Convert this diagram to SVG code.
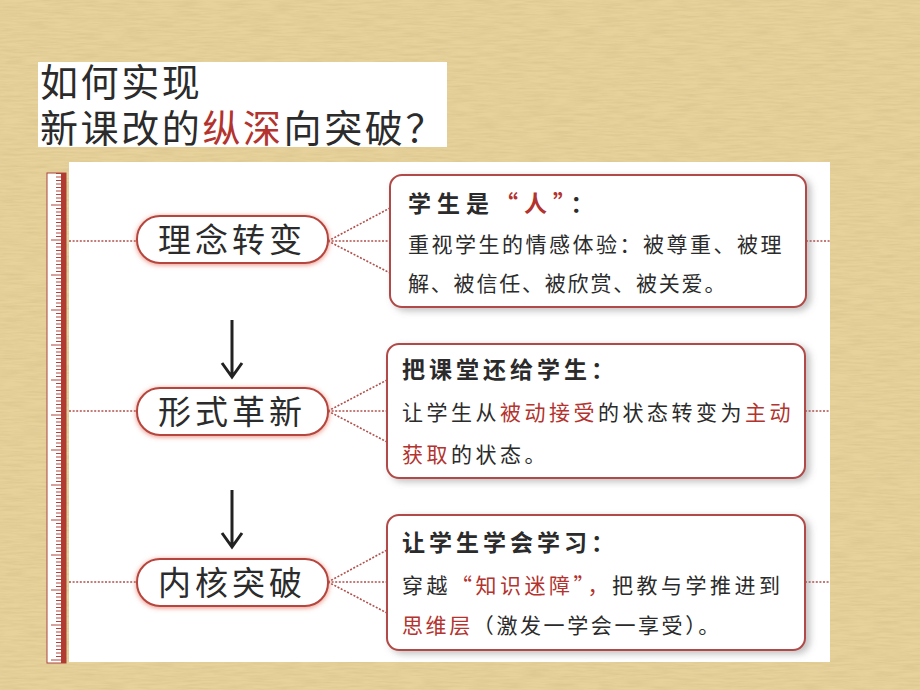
<svg xmlns="http://www.w3.org/2000/svg" width="920" height="690" viewBox="0 0 920 690">
<defs>
<style>
.cn{font-family:"Noto Sans CJK SC","Noto Sans CJK TC",sans-serif;fill:#2b2b2b}
.red{fill:#b3332e}
.ttl{font-size:38px;letter-spacing:2.6px}
.pilltxt{font-size:33px;letter-spacing:4px}
.bt{font-size:23px;font-weight:bold}
.bx{font-size:21px;letter-spacing:2.5px}
.pill{fill:#fff;stroke:#b5453d;stroke-width:2}
.box{fill:#fff;stroke:#b04a46;stroke-width:2}
.dot{stroke:#b0504c;stroke-width:1.6;stroke-dasharray:2 1.6;fill:none}
.arr{stroke:#222;stroke-width:3;fill:none}
</style>
<filter id="tex" x="0" y="0" width="100%" height="100%">
<feTurbulence type="fractalNoise" baseFrequency="0.04 0.5" numOctaves="3" seed="4"/>
<feColorMatrix type="matrix" values="0 0 0 0 0.6  0 0 0 0 0.47  0 0 0 0 0.22  0 0 0 0.7 -0.22"/>
</filter>
<filter id="shd" x="-10%" y="-10%" width="125%" height="130%">
<feDropShadow dx="4" dy="3" stdDeviation="3.5" flood-color="#777" flood-opacity="0.45"/>
</filter>
<filter id="glow" x="-10%" y="-30%" width="120%" height="160%">
<feDropShadow dx="0" dy="1" stdDeviation="2.5" flood-color="#e0604c" flood-opacity="0.7"/>
</filter>
<pattern id="ticks" x="47" y="173" width="20" height="35" patternUnits="userSpaceOnUse">
<g stroke="#b0443c" stroke-width="1">
<line x1="9" y1="0.5" x2="14" y2="0.5"/>
<line x1="9" y1="4" x2="14" y2="4"/>
<line x1="9" y1="7.5" x2="14" y2="7.5"/>
<line x1="9" y1="11" x2="14" y2="11"/>
<line x1="9" y1="14.5" x2="14" y2="14.5"/>
<line x1="9" y1="18" x2="14" y2="18"/>
<line x1="9" y1="21.5" x2="14" y2="21.5"/>
<line x1="9" y1="25" x2="14" y2="25"/>
<line x1="9" y1="28.5" x2="14" y2="28.5"/>
<line x1="4" y1="32" x2="14" y2="32"/>
</g>
</pattern>
</defs>

<!-- background -->
<rect width="920" height="690" fill="#e8d29c"/>
<rect width="920" height="690" filter="url(#tex)"/>

<!-- title -->
<g id="title">
<rect x="38" y="62" width="409" height="85" fill="#fff"/>
<text class="cn ttl" x="40" y="96">如何实现</text>
<text class="cn ttl" x="40" y="142">新课改的<tspan class="red">纵深</tspan>向突破？</text>
</g>

<!-- panel -->
<rect x="69" y="162" width="761" height="500" fill="#fff"/>

<!-- ruler -->
<g id="ruler">
<rect x="47" y="173" width="19" height="490" fill="#fff" stroke="#a8463e" stroke-width="1"/>
<rect x="47" y="173" width="19" height="490" fill="url(#ticks)"/>
<rect x="61" y="173" width="5" height="490" fill="#b13a31"/>
</g>

<!-- connectors -->
<g id="connectors">
<line class="dot" x1="69" y1="241" x2="137" y2="241"/>
<line class="dot" x1="69" y1="411" x2="137" y2="411"/>
<line class="dot" x1="69" y1="582" x2="137" y2="582"/>
<path class="dot" d="M328 241 L390 208 M328 241 L390 241 M328 241 L390 273"/>
<path class="dot" d="M328 411 L387 380 M328 411 L387 411 M328 411 L387 442"/>
<path class="dot" d="M328 582 L387 550 M328 582 L387 582 M328 582 L387 613"/>
<line class="dot" x1="806" y1="241" x2="830" y2="241"/>
<line class="dot" x1="805" y1="411" x2="830" y2="411"/>
<line class="dot" x1="805" y1="582" x2="830" y2="582"/>
<path class="arr" d="M232 320 L232 376 M222 363 L232 377 L242 363"/>
<path class="arr" d="M232 490 L232 546 M222 533 L232 547 L242 533"/>
</g>

<!-- nodes -->
<g id="n1">
<rect class="pill" x="137" y="216" width="191" height="47" rx="23" filter="url(#glow)"/>
<text class="cn pilltxt" x="158" y="252">理念转变</text>
</g>
<g id="n2">
<rect class="pill" x="137" y="388" width="191" height="47" rx="23" filter="url(#glow)"/>
<text class="cn pilltxt" x="158" y="424">形式革新</text>
</g>
<g id="n3">
<rect class="pill" x="137" y="559" width="191" height="47" rx="23" filter="url(#glow)"/>
<text class="cn pilltxt" x="158" y="595">内核突破</text>
</g>

<g id="b1">
<rect class="box" x="390" y="175" width="416" height="132" rx="12" filter="url(#shd)"/>
<text class="cn bt" x="408" y="212" style="letter-spacing:6px">学生是<tspan class="red">“人”</tspan>：</text>
<text class="cn bx" x="408" y="252">重视学生的情感体验：被尊重、被理</text>
<text class="cn bx" x="408" y="291" style="letter-spacing:1.8px">解、被信任、被欣赏、被关爱。</text>
</g>
<g id="b2">
<rect class="box" x="387" y="344" width="418" height="134" rx="12" filter="url(#shd)"/>
<text class="cn bt" x="402" y="378" style="letter-spacing:4px">把课堂还给学生：</text>
<text class="cn bx" x="402" y="420" style="letter-spacing:3.5px">让学生从<tspan class="red">被动接受</tspan>的状态转变为<tspan class="red">主动</tspan></text>
<text class="cn bx" x="402" y="462" style="letter-spacing:3.5px"><tspan class="red">获取</tspan>的状态。</text>
</g>
<g id="b3">
<rect class="box" x="387" y="515" width="418" height="135" rx="12" filter="url(#shd)"/>
<text class="cn bt" x="402" y="551" style="letter-spacing:4px">让学生学会学习：</text>
<text class="cn bx" x="402" y="593" style="letter-spacing:3.5px">穿越<tspan class="red">“知识迷障”，</tspan>把教与学推进到</text>
<text class="cn bx" x="402" y="633" style="letter-spacing:2.6px"><tspan class="red">思维层</tspan>（激发一学会一享受）。</text>
</g>
</svg>
